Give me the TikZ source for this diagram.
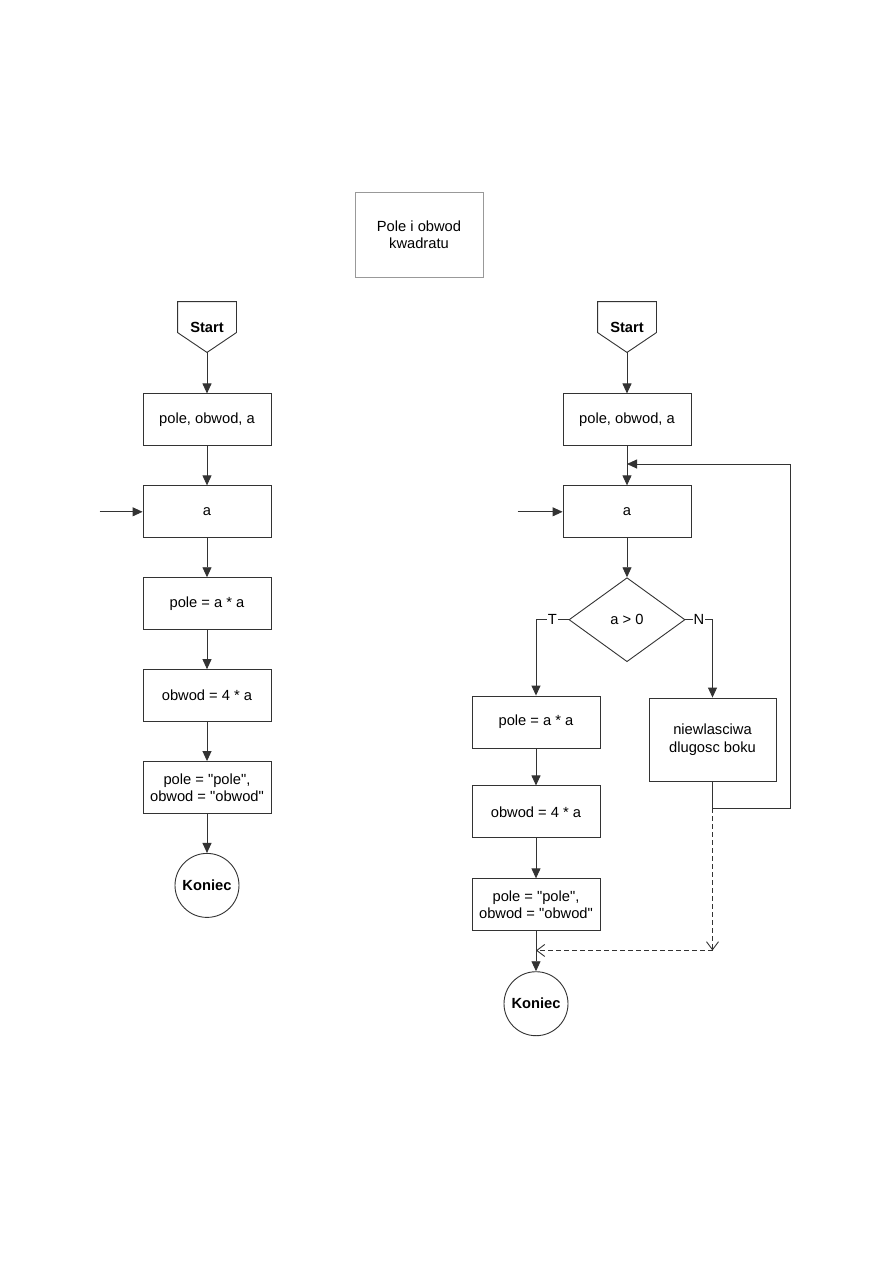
\documentclass[tikz,border=0pt]{standalone}
\usepackage{fontspec}
\setmainfont{Liberation Sans}[Ligatures=TeXOff]
\usetikzlibrary{shapes.geometric, arrows.meta, positioning, calc}

\begin{document}
\begin{tikzpicture}[
      x=1pt, y=-1pt,
      node distance=39pt,
      line width=0.9pt,
      every node/.style={font=\fontsize{14.7}{17.5}\selectfont},
      proc/.style={rectangle, draw=black!80, fill=white, minimum width=128pt, minimum height=52pt, align=center, inner sep=2pt},
      startbox/.style={rectangle, minimum width=58pt, minimum height=50pt, inner sep=0pt, font=\fontsize{14.7}{17.5}\selectfont\bfseries},
      term/.style={circle, draw=black!80, fill=white, minimum size=64pt, inner sep=0pt, font=\fontsize{14.7}{17.5}\selectfont\bfseries},
      dec/.style={diamond, draw=black!80, fill=white, minimum width=116pt, minimum height=84pt, aspect=1.38, inner sep=0pt},
      arrow/.style={-{Triangle[length=10pt,width=9pt]}, draw=black!80},
      dasharrow/.style={-{Straight Barb[length=8pt,width=12pt]}, draw=black!80, dash pattern=on 5pt off 3pt},
      lbl/.style={fill=white, inner sep=1pt}
    ]
    \useasboundingbox[fill=white] (0,0) rectangle (893,1263);

    \node[rectangle, draw=black!40, minimum width=128pt, minimum height=85pt, align=center] (title) at (419,234.5) {Pole i obwod\\kwadratu};

    % lewy schemat
    \node[startbox] (startL) at (207,327) {Start};
    \node[proc, below=41pt of startL] (deklL) {pole, obwod, a};
    \node[proc, below=of deklL] (aL) {a};
    \node[proc, below=of aL] (poleL) {pole = a * a};
    \node[proc, below=of poleL] (obwodL) {obwod = 4 * a};
    \node[proc, below=of obwodL] (wynikL) {pole = "pole",\\obwod = "obwod"};
    \node[term, below=of wynikL] (konL) {Koniec};
    \coordinate[left=43pt of aL] (inL);

    \draw[arrow] (startL) -- (deklL);
    \draw[arrow] (deklL) -- (aL);
    \draw[arrow] (aL) -- (poleL);
    \draw[arrow] (poleL) -- (obwodL);
    \draw[arrow] (obwodL) -- (wynikL);
    \draw[arrow] (wynikL) -- (konL);
    \draw[arrow] (inL) -- (aL);

    % prawy schemat
    \node[startbox] (startR) at (627,327) {Start};
    \node[proc, below=41pt of startR] (deklR) {pole, obwod, a};
    \node[proc, below=of deklR] (aR) {a};
    \node[dec, below=of aR] (warR) {a > 0};
    \node[proc] (poleR) at (536,722) {pole = a * a};
    \node[proc, below=37pt of poleR] (obwodR) {obwod = 4 * a};
    \node[proc, below=40pt of obwodR] (wynikR) {pole = "pole",\\obwod = "obwod"};
    \node[term, below=40pt of wynikR] (konR) {Koniec};
    \node[proc, minimum width=127pt, minimum height=83pt] (bladR) at (712.5,739.5) {niewlasciwa\\dlugosc boku};
    \coordinate[left=45pt of aR] (inR);
    \coordinate (petla) at (627,464);
    \coordinate (zbieg) at ([yshift=-169pt]bladR.south);

    % obrys "Start"
    \foreach \s in {startL, startR}
      \draw[black!80] (\s.north west) -- (\s.north east) -- ([yshift=-31pt]\s.north east)
        -- (\s.south) -- ([yshift=-31pt]\s.north west) -- cycle;

    \draw[arrow] (startR) -- (deklR);
    \draw[arrow] (deklR) -- (aR);
    \draw[arrow] (aR) -- (warR);
    \draw[arrow] (inR) -- (aR);
    \draw[arrow] (warR.west) -- node[lbl] {T} (poleR.north |- warR.west) -- (poleR);
    \draw[arrow] (warR.east) -- node[lbl] {N} (bladR.north |- warR.east) -- (bladR);
    \draw[arrow] (poleR) -- (obwodR);
    \draw[arrow] (obwodR) -- (wynikR);
    \draw[arrow] (wynikR) -- (konR);
    \draw[arrow] (bladR.south) -- ++(0,27) -| (790,464) -- (petla);
    \draw[dasharrow] ([yshift=-27pt]bladR.south) -- (zbieg);
    \draw[dasharrow] (zbieg) -- (zbieg -| wynikR.south);
  \end{tikzpicture}
\end{document}
